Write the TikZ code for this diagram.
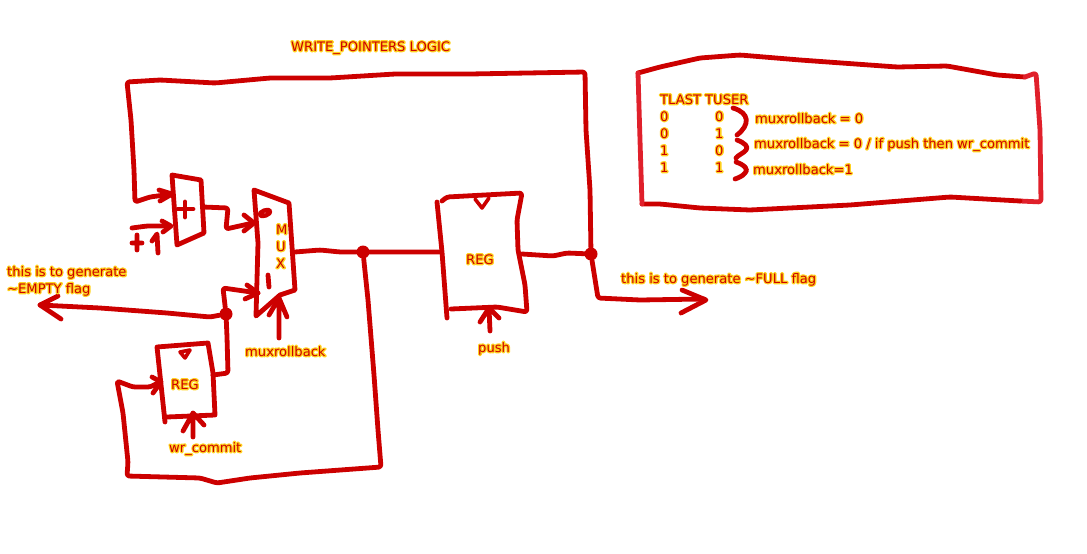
\documentclass[tikz,border=0pt]{standalone}
\usepackage{fontspec}
\setmainfont{DejaVu Sans}
\definecolor{ink}{HTML}{CC0000}
\definecolor{inklight}{HTML}{E0202B}
\definecolor{halo}{HTML}{FFD21F}
\newcommand{\hl}[1]{\leavevmode\rlap{\special{pdf:code 1 Tr 2.6 w 1 j}{\color{halo}#1}\special{pdf:code 0 Tr}}{\color{ink}#1}}
\tikzset{
  pen/.style={draw=ink,line width=4.8pt,line cap=round,line join=round},
  wob/.style={pen,rounded corners=2.5pt},
  penlight/.style={draw=inklight,line width=4.8pt,line cap=round,line join=round,rounded corners=2.5pt},
  lbl/.style={font=\fontsize{13.1}{17}\selectfont,inner sep=0pt,anchor=base west,align=left},
  junction/.style={circle,fill=ink,inner sep=0pt,minimum size=13pt}
}
\begin{document}
\begin{tikzpicture}[x=1pt,y=-1pt]
\useasboundingbox (0,0) rectangle (1087,554);
% junctions
\node[junction] (j1) at (363,252) {};
\node[junction] (j2) at (591,254) {};
\node[junction] (j3) at (226,314) {};
% feedback loop
\draw[wob] (j2) -- (590,190) -- (586,130) -- (585,72) -- (470,74) -- (395,74) -- (330,78) -- (270,78) -- (215,83) -- (160,80) -- (127,82) -- (131,120) -- (134,170) -- (135,202) -- (150,197) -- (172,194);
\draw[pen] (159,190) -- (172,194) -- (160,201);
% adder
\draw[pen] (172,175) -- (201,180) -- (204,233) -- (177,245) -- cycle;
\draw[pen] (178,209) -- (193,209) (185,202) -- (185,217);
\draw[wob] (132,228) -- (147,226) -- (170,226);
\draw[pen] (162,221) -- (171,226) -- (163,232);
\draw[pen] (132,243) -- (142,243) (137,235) -- (137,250) (152,241) -- (157,234) -- (158,253);
\draw[wob] (203,207) -- (228,208) -- (226,229) -- (253,223);
\draw[pen] (244,215) -- (254,223) -- (244,231);
% mux
\draw[pen] (254,190) -- (289,203) -- (295,290) -- (280,295) -- (256,316) -- (258,243) -- cycle;
\draw[pen,line width=4.4pt,rotate around={20:(265,213)}] (265,213) ellipse [x radius=5.5pt,y radius=2.6pt];
\draw[pen] (268,275) -- (269,287);
\draw[wob] (295,252) -- (320,250) -- (340,252) -- (j1) -- (441,252);
\draw[pen] (279,338) -- (279,298) (269,315) -- (279,298) -- (287,317);
% lower loop
\draw[wob] (j1) -- (368,300) -- (374,375) -- (378,430) -- (381,467) -- (300,473) -- (250,478) -- (217,483) -- (200,478) -- (127,476) -- (128,462) -- (123,413) -- (117,381) -- (133,387) -- (150,387) -- (160,382);
\draw[pen] (152,377) -- (161,382) -- (153,393);
% small reg
\draw[pen] (165,422) -- (157,347) -- (208,343) -- (213,373) -- (215,415) -- (167,417);
\draw[pen,line width=3.6pt] (180,352) -- (190,350) -- (185,358) -- cycle;
\draw[pen] (193,437) -- (193,413) (183,431) -- (193,413) -- (204,425);
\draw[wob] (213,375) -- (228,373) -- (227,337) -- (j3) -- (223,288) -- (258,293);
\draw[pen] (247,285) -- (258,293) -- (245,299);
\draw[wob] (j3) -- (210,317) -- (167,313) -- (100,308) -- (40,305);
\draw[pen] (58,296) -- (40,305) -- (61,319);
% big reg
\draw[pen] (437,202) -- (442,252) -- (447,318);
\draw[wob] (442,201) -- (447,197) -- (522,193) -- (517,220) -- (518,250) -- (525,285) -- (527,312) -- (497,307) -- (451,309);
\draw[pen,line width=3.6pt] (475,199) -- (482,208) -- (489,198);
\draw[pen] (490,331) -- (489,308) (480,322) -- (489,308) -- (499,318);
\draw[wob] (522,254) -- (553,256) -- (567,253) -- (j2) -- (598,298) -- (640,300) -- (704,299);
\draw[pen] (682,290) -- (706,300) -- (681,313);
% truth table box
\draw[wob] (638,73) -- (660,67) -- (700,58) -- (740,55) -- (800,60) -- (897,67) -- (947,66) -- (997,75) -- (1025,77);
\draw[penlight] (1025,77) -- (1036,73) -- (1040,130) -- (1041,202) -- (1020,201);
\draw[wob] (1020,201) -- (950,197) -- (850,205) -- (750,210) -- (700,208) -- (660,204) -- (642,204);
\draw[penlight] (642,204) -- (640,140) -- (638,73);
\draw[pen] (733,108) .. controls (750,113) and (750,125) .. (737,135);
\draw[pen] (737,140) .. controls (745,143) and (749,147) .. (746,150) .. controls (744,153) and (738,155) .. (736,158);
\draw[pen] (736,162) .. controls (745,165) and (749,170) .. (745,173) .. controls (743,176) and (738,178) .. (735,179);
% labels
\node[lbl] (title) at (291,51) {\hl{WRITE\_POINTERS LOGIC}};
\node[lbl] (empty) at (7,293) {\hl{this is to generate}\\\hl{\textasciitilde EMPTY flag}};
\node[lbl] (full) at (621,283) {\hl{this is to generate \textasciitilde FULL flag}};
\node[lbl] (m) at (276,234) {\hl{M}};
\node[lbl] (u) at (276,251) {\hl{U}};
\node[lbl] (x) at (276,268) {\hl{X}};
\node[lbl] (reg1) at (466,264) {\hl{REG}};
\node[lbl] (reg2) at (171,389) {\hl{REG}};
\node[lbl] (push) at (478,352) {\hl{push}};
\node[lbl] (mr) at (245,356) {\hl{muxrollback}};
\node[lbl] (wr) at (169,452) {\hl{wr\_commit}};
\node[lbl] (hdr) at (660,104) {\hl{TLAST TUSER}};
\node[lbl] (a1) at (660,121) {\hl{0}};
\node[lbl] (a2) at (660,138) {\hl{0}};
\node[lbl] (a3) at (660,155) {\hl{1}};
\node[lbl] (a4) at (660,172) {\hl{1}};
\node[lbl] (b1) at (715,121) {\hl{0}};
\node[lbl] (b2) at (715,138) {\hl{1}};
\node[lbl] (b3) at (715,155) {\hl{0}};
\node[lbl] (b4) at (715,172) {\hl{1}};
\node[lbl] (c1) at (755,123) {\hl{muxrollback = 0}};
\node[lbl] (c2) at (754,148) {\hl{muxrollback = 0 / if push then wr\_commit}};
\node[lbl] (c3) at (753,174) {\hl{muxrollback=1}};
\end{tikzpicture}
\end{document}
